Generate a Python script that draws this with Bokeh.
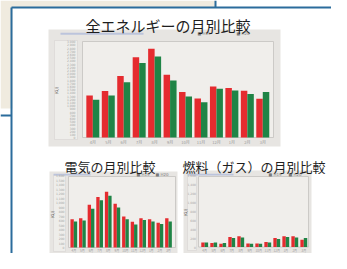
import numpy as np
from bokeh.plotting import figure
from bokeh.models import Range1d
from bokeh.core.properties import value
from bokeh.embed import file_html
from bokeh.resources import INLINE

# ---------------- data ----------------
months = ["4月", "5月", "6月", "7月", "8月", "9月", "10月", "11月", "12月", "1月", "2月", "3月"]
series_names = ["H19", "H20"]
titles = ["全エネルギーの月別比較", "電気の月別比較", "燃料（ガス）の月別比較"]
unit_label = "(GJ)"

total_prev = [1310, 1450, 1920, 2510, 2770, 1960, 1420, 1220, 1590, 1550, 1460, 1210]
total_curr = [1180, 1310, 1730, 2330, 2530, 1780, 1280, 1100, 1520, 1470, 1360, 1420]
elec_prev = [630, 650, 950, 1120, 1240, 970, 690, 570, 650, 630, 550, 650]
elec_curr = [580, 600, 860, 1050, 1150, 890, 630, 510, 610, 580, 520, 580]
gas_prev = [100, 90, 70, 220, 240, 80, 80, 110, 200, 240, 240, 160]
gas_curr = [100, 100, 90, 200, 210, 70, 70, 100, 180, 220, 210, 200]

total_ticks = list(range(0, 3001, 100))
elec_ticks = list(range(0, 1601, 100))
gas_ticks = list(range(0, 1601, 200))

# ---------------- styling ----------------
W, H = 331, 253
X0, X1, Y0, Y1 = 0, 331, 0, 253
BLUE = "#2b6c9c"
BEIGE = "#f0ebdf"
RED = "#e52b2f"
GREEN = "#1f8446"
BG = "#e7e5e2"
PANEL = "#eeedea"
PLOT = "#f0eeeb"
JP = value("Noto Sans CJK JP")

p = figure(width=W, height=H, x_range=Range1d(X0, X1), y_range=Range1d(Y1, Y0),
           output_backend="svg", toolbar_location=None, min_border=0,
           x_axis_location=None, y_axis_location=None)
p.grid.visible = False
p.outline_line_color = None
p.background_fill_color = "white"
p.border_fill_color = "white"

# page decoration: beige box behind the framed panel
p.quad(left=0, right=215, top=0, bottom=108, fill_color=BEIGE, line_color=None)
p.quad(left=12, right=347, top=7, bottom=269, fill_color="white", line_color=None)
p.segment(x0=[11, 11, 0, 215], y0=[7, 7, 115, 0], x1=[347, 11, 11, 215], y1=[7, 269, 115, 7],
          line_color=BLUE, line_width=2)


def lin_range(v0, p0, v1, p1, lo, hi):
    s = (p1 - p0) / (v1 - v0)
    return Range1d(v0 + (lo - p0) / s, v0 + (hi - p0) / s)


xr_map, yr_map = {}, {}


def add_chart(key, bg, panel, plot, xmap, ymap, prev, curr, yticks, tick_x, xlab_y,
              ylab, legend_x, legend_y, bluebar, bar_w, fs_x, fs_y):
    p.quad(left=bg[0], right=bg[1], top=bg[2], bottom=bg[3], fill_color=BG, line_color=None)
    p.quad(left=panel[0], right=panel[1], top=panel[2], bottom=panel[3],
           fill_color=PANEL, line_color="#d6d4d1", line_width=0.6)
    p.quad(left=plot[0], right=plot[1], top=plot[2], bottom=plot[3],
           fill_color=PLOT, line_color="#c4c2bf", line_width=0.8)
    p.quad(left=bluebar[0], right=bluebar[1], top=bluebar[2], bottom=bluebar[3],
           fill_color="#bcc4dc", line_color=None)
    xr_map[key + "x"] = lin_range(xmap[0], xmap[1], xmap[2], xmap[3], X0, X1)
    yr_map[key + "y"] = lin_range(ymap[0], ymap[1], ymap[2], ymap[3], Y1, Y0)
    idx = np.arange(1, len(months) + 1)
    p.vbar(x=idx - bar_w / 2, top=prev, bottom=0, width=bar_w, fill_color=RED,
           line_color=None, x_range_name=key + "x", y_range_name=key + "y")
    p.vbar(x=idx + bar_w / 2, top=curr, bottom=0, width=bar_w, fill_color=GREEN,
           line_color=None, x_range_name=key + "x", y_range_name=key + "y")
    p.text(x=idx, y=[xlab_y] * len(months), text=months, x_range_name=key + "x",
           text_font=JP, text_font_size=fs_x, text_color="#9a9a9a",
           text_align="center", text_baseline="middle")
    p.text(x=[tick_x] * len(yticks), y=yticks, text=[f"{t:,}" for t in yticks],
           y_range_name=key + "y", text_font=value("DejaVu Sans"), text_font_size=fs_y,
           text_color="#a5a5a5", text_align="right", text_baseline="middle")
    p.text(x=[ylab[0]], y=[ylab[1]], text=[unit_label], angle=np.pi / 2,
           text_font=value("DejaVu Sans"), text_font_size="4px", text_color="#555555",
           text_align="center", text_baseline="middle")
    p.text(x=legend_x, y=[legend_y] * 2, text=["■ " + s for s in series_names],
           text_font=value("DejaVu Sans"), text_font_size="4px", text_color="#7a7a7a",
           text_align="left", text_baseline="middle")


add_chart("m", bg=(48, 280, 29, 146), panel=(54, 77, 40, 139), plot=(82, 273, 41, 137),
          xmap=(0.5, 84.6, 12.5, 270), ymap=(0, 137, 3000, 41),
          prev=total_prev, curr=total_curr, yticks=total_ticks, tick_x=75, xlab_y=141.5,
          ylab=(56, 90), legend_x=[197, 236], legend_y=33, bluebar=(60, 143, 32.3, 34.3),
          bar_w=0.42, fs_x="4px", fs_y="3px")
add_chart("e", bg=(49, 177, 171, 253), panel=(53, 65, 175, 251), plot=(68, 175, 176, 247),
          xmap=(0.5, 69, 12.5, 172.3), ymap=(0, 247, 1600, 175),
          prev=elec_prev, curr=elec_curr, yticks=elec_ticks, tick_x=64, xlab_y=250.3,
          ylab=(52, 214), legend_x=[136, 155], legend_y=174, bluebar=(53, 90, 173.3, 175),
          bar_w=0.39, fs_x="3px", fs_y="3px")
add_chart("g", bg=(183, 311, 170, 253), panel=(187, 196, 175, 250), plot=(198, 308, 176, 246.5),
          xmap=(0.5, 199.7, 12.5, 307.8), ymap=(0, 246.5, 1600, 174.5),
          prev=gas_prev, curr=gas_curr, yticks=gas_ticks, tick_x=195.5, xlab_y=250,
          ylab=(185, 212), legend_x=[268, 288], legend_y=174, bluebar=(187, 233, 173.3, 175),
          bar_w=0.38, fs_x="3px", fs_y="3px")

p.extra_x_ranges = xr_map
p.extra_y_ranges = yr_map

# titles
p.text(x=[167.5, 109.5, 253.5], y=[25, 166, 166], text=titles, text_font=JP,
       text_font_size=["15px", "13px", "13px"], text_color="#1e1e1e",
       text_align="center", text_baseline="middle")

open("out.html", "w").write(file_html(p, INLINE))
